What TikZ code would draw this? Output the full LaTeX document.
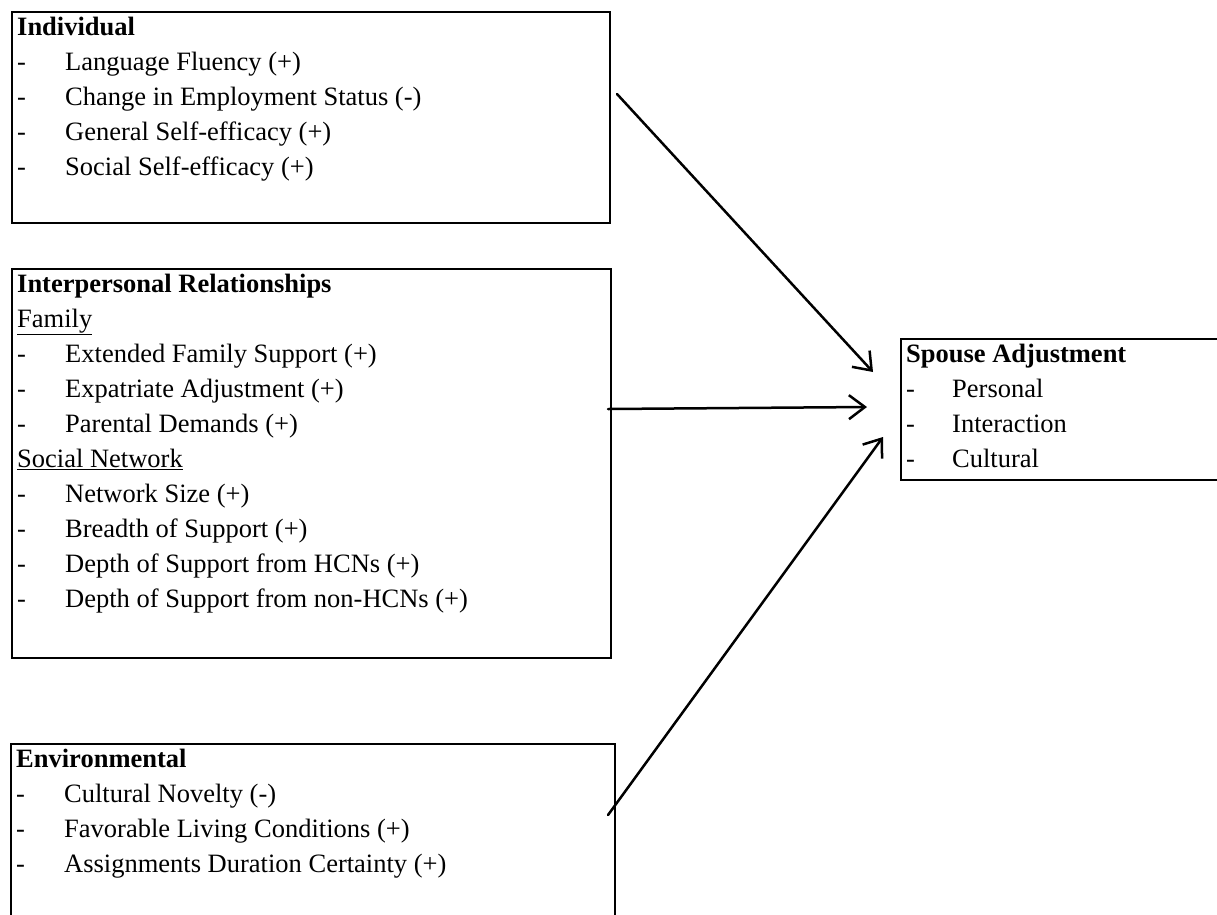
\documentclass[tikz,border=0pt]{standalone}
\usepackage{fontspec}
\setmainfont{Liberation Serif}
\usetikzlibrary{arrows.meta}
\newcommand\dashitem[1]{\makebox[48pt][l]{-}#1}
\begin{document}
\begin{tikzpicture}[x=1pt,y=-1pt,
  box/.style={draw, line width=2.4pt, rectangle, anchor=north west, inner sep=0pt},
  txt/.style={anchor=north west, inner sep=0pt, align=left, font=\fontsize{26.5}{35}\selectfont},
  conn/.style={line width=2.5pt, line cap=round, -{Straight Barb[length=16pt,width=24pt,line width=2.5pt]}}]
\useasboundingbox (0,0) rectangle (1217,914);
\clip (0,0) rectangle (1217,914);
% boxes
\node[box, minimum width=598pt, minimum height=211pt] (ind) at (11,11) {};
\node[box, minimum width=599pt, minimum height=389pt] (ip) at (11,268) {};
\node[box, minimum width=604pt, minimum height=260pt] (env) at (10,743) {};
\node[box, minimum width=360pt, minimum height=141pt] (sp) at (900,338) {};
% texts
\node[txt] (indtxt) at (17,10.5) {\strut\textbf{Individual}\\
  \dashitem{Language Fluency (+)}\\
  \dashitem{Change in Employment Status (-)}\\
  \dashitem{General Self-efficacy (+)}\\
  \dashitem{Social Self-efficacy (+)}};
\node[txt] (iptxt) at (17,267.5) {\strut\textbf{Interpersonal Relationships}\\
  \underline{Family}\\
  \dashitem{Extended Family Support (+)}\\
  \dashitem{Expatriate Adjustment (+)}\\
  \dashitem{Parental Demands (+)}\\
  \underline{Social Network}\\
  \dashitem{Network Size (+)}\\
  \dashitem{Breadth of Support (+)}\\
  \dashitem{Depth of Support from HCNs (+)}\\
  \dashitem{Depth of Support from non-HCNs (+)}};
\node[txt] (envtxt) at (16,742.5) {\strut\textbf{Environmental}\\
  \dashitem{Cultural Novelty (-)}\\
  \dashitem{Favorable Living Conditions (+)}\\
  \dashitem{Assignments Duration Certainty (+)}};
\node[txt] (sptxt) at (906,337.5) {\strut\textbf{Spouse Adjustment}\\
  \makebox[46pt][l]{-}Personal\\
  \makebox[46pt][l]{-}Interaction\\
  \makebox[46pt][l]{-}Cultural};
% connectors
\coordinate (a1s) at (617,94);
\coordinate (a1e) at (873,372);
\coordinate (a2s) at (608,409);
\coordinate (a2e) at (867,407);
\coordinate (a3s) at (608,815);
\coordinate (a3e) at (883,437);
\draw[conn] (a1s) -- (a1e);
\draw[conn] (a2s) -- (a2e);
\draw[conn] (a3s) -- (a3e);
\end{tikzpicture}
\end{document}
